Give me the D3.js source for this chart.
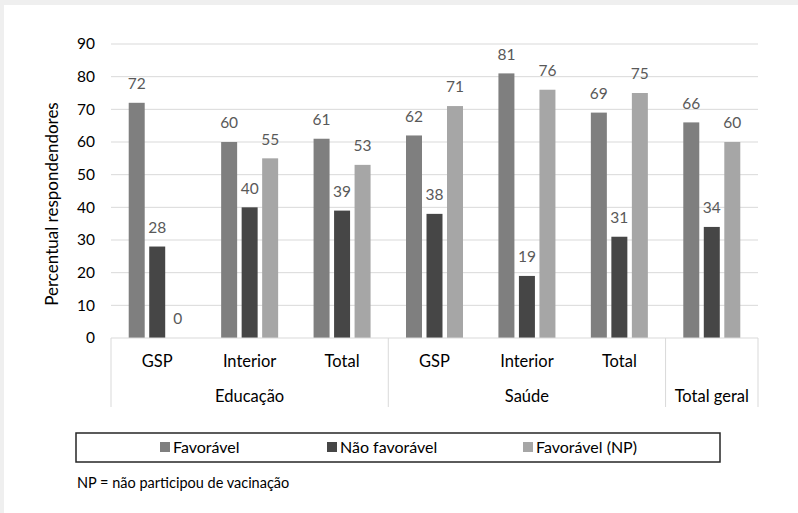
<!DOCTYPE html>
<html>
<head>
<meta charset="utf-8">
<script src="https://cdn.jsdelivr.net/npm/d3@7"></script>
<style>
  body { margin: 0; background: #efefef; }
  svg { display: block; font-family: Lato, 'Open Sans', sans-serif; }
</style>
</head>
<body>
<div id="chart"></div>
<script>
// categories and groups along the x axis
const categories = ['GSP', 'Interior', 'Total', 'GSP', 'Interior', 'Total', ''];
const groups = [
  { name: 'Educação', from: 0, to: 3 },
  { name: 'Saúde', from: 3, to: 6 },
  { name: 'Total geral', from: 6, to: 7 }
];
const seriesNames = ['Favorável', 'Não favorável', 'Favorável (NP)'];
const favoravel = [72, 60, 61, 62, 81, 69, 66];
const naoFavoravel = [28, 40, 39, 38, 19, 31, 34];
const favoravelNP = [0, 55, 53, 71, 76, 75, 60];
const yTicks = [0, 10, 20, 30, 40, 50, 60, 70, 80, 90];
const colors = ['#7f7f7f', '#464646', '#a6a6a6'];

const width = 798;
const height = 513;
const margin = { top: 44, right: 40, bottom: 175, left: 111 };
const chartWidth = width - margin.left - margin.right;
const chartHeight = height - margin.top - margin.bottom;

const svg = d3.select('#chart').append('svg').attr('width', width).attr('height', height);

// card
svg.append('rect').attr('width', width).attr('height', height).attr('fill', '#efefef');
svg.append('rect').attr('x', 4).attr('y', 5).attr('width', width).attr('height', height).attr('fill', '#fff');

const x = d3.scaleBand().domain(d3.range(categories.length)).range([0, chartWidth]);
const inner = d3
  .scaleBand()
  .domain(d3.range(3))
  .range([x.bandwidth() / 2 - 28.5, x.bandwidth() / 2 + 28.5])
  .paddingInner(0.22);
const y = d3.scaleLinear().domain([0, 90]).range([chartHeight, 0]);

const chart = svg.append('g').attr('transform', `translate(${margin.left}, ${margin.top})`);

// gridlines
chart
  .selectAll('.grid')
  .data(yTicks.slice(1))
  .enter()
  .append('line')
  .attr('x1', 0)
  .attr('x2', chartWidth)
  .attr('y1', (d) => y(d))
  .attr('y2', (d) => y(d))
  .attr('stroke', '#d9d9d9')
  .attr('stroke-width', 1);

// y axis labels
const yAxis = chart.append('g').call(d3.axisLeft(y).tickValues(yTicks).tickSize(0).tickPadding(16));
yAxis.select('.domain').remove();
yAxis.selectAll('text').attr('font-size', 15.5).attr('fill', '#000').attr('font-family', 'Lato');

// bars
const rows = categories.map((c, i) => [favoravel[i], naoFavoravel[i], favoravelNP[i]]);
const cat = chart
  .selectAll('.cat')
  .data(rows)
  .enter()
  .append('g')
  .attr('transform', (d, i) => `translate(${x(i)}, 0)`);

cat
  .selectAll('rect')
  .data((d) => d)
  .enter()
  .append('rect')
  .attr('x', (d, j) => inner(j))
  .attr('y', (d) => y(d))
  .attr('width', inner.bandwidth())
  .attr('height', (d) => chartHeight - y(d))
  .attr('fill', (d, j) => colors[j]);

cat
  .selectAll('text')
  .data((d) => d)
  .enter()
  .append('text')
  .text((d) => d)
  .attr('x', (d, j) => inner(j) + inner.bandwidth() / 2)
  .attr('y', (d) => y(d) - 19)
  .attr('dy', '0.35em')
  .attr('text-anchor', 'middle')
  .attr('font-size', 15.5)
  .attr('fill', '#595959');

// x axis table
const tableBottom = 69;
const axisG = chart.append('g').attr('transform', `translate(0, ${chartHeight})`);
axisG.append('line').attr('x1', 0).attr('x2', chartWidth).attr('stroke', '#d9d9d9');
const seps = [0, 3, 6, 7];
axisG
  .selectAll('.sep')
  .data(seps)
  .enter()
  .append('line')
  .attr('x1', (d) => (d < 7 ? x(d) : chartWidth))
  .attr('x2', (d) => (d < 7 ? x(d) : chartWidth))
  .attr('y1', 0)
  .attr('y2', tableBottom)
  .attr('stroke', '#d9d9d9');

axisG
  .selectAll('.catlabel')
  .data(categories)
  .enter()
  .append('text')
  .text((d) => d)
  .attr('x', (d, i) => x(i) + x.bandwidth() / 2)
  .attr('y', 23)
  .attr('dy', '0.35em')
  .attr('text-anchor', 'middle')
  .attr('font-size', 16.5)
  .attr('fill', '#000');

axisG
  .selectAll('.grouplabel')
  .data(groups)
  .enter()
  .append('text')
  .text((d) => d.name)
  .attr('x', (d) => (x(d.from) + (d.to < 7 ? x(d.to) : chartWidth)) / 2)
  .attr('y', 58)
  .attr('dy', '0.35em')
  .attr('text-anchor', 'middle')
  .attr('font-size', 16.5)
  .attr('fill', '#000');

// y title
svg
  .append('text')
  .text('Percentual respondendores')
  .attr('transform', 'translate(52, 204) rotate(-90)')
  .attr('dy', '0.35em')
  .attr('text-anchor', 'middle')
  .attr('font-size', 17)
  .attr('fill', '#000');

// legend
svg
  .append('rect')
  .attr('x', 76)
  .attr('y', 433)
  .attr('width', 644)
  .attr('height', 29)
  .attr('fill', 'none')
  .attr('stroke', '#262626')
  .attr('stroke-width', 1.5);

const legendX = [160, 327, 523];
const legend = svg
  .selectAll('.legend')
  .data(seriesNames)
  .enter()
  .append('g')
  .attr('transform', (d, i) => `translate(${legendX[i]}, 447)`);
legend
  .append('rect')
  .attr('x', 0)
  .attr('y', -5)
  .attr('width', 10)
  .attr('height', 10)
  .attr('fill', (d, i) => colors[i]);
legend
  .append('text')
  .text((d) => d)
  .attr('x', 13)
  .attr('dy', '0.35em')
  .attr('font-size', 16)
  .attr('fill', '#000');

svg
  .append('text')
  .text('NP = não participou de vacinação')
  .attr('x', 77)
  .attr('y', 483)
  .attr('dy', '0.35em')
  .attr('font-size', 14.5)
  .attr('fill', '#000');
</script>
</body>
</html>
